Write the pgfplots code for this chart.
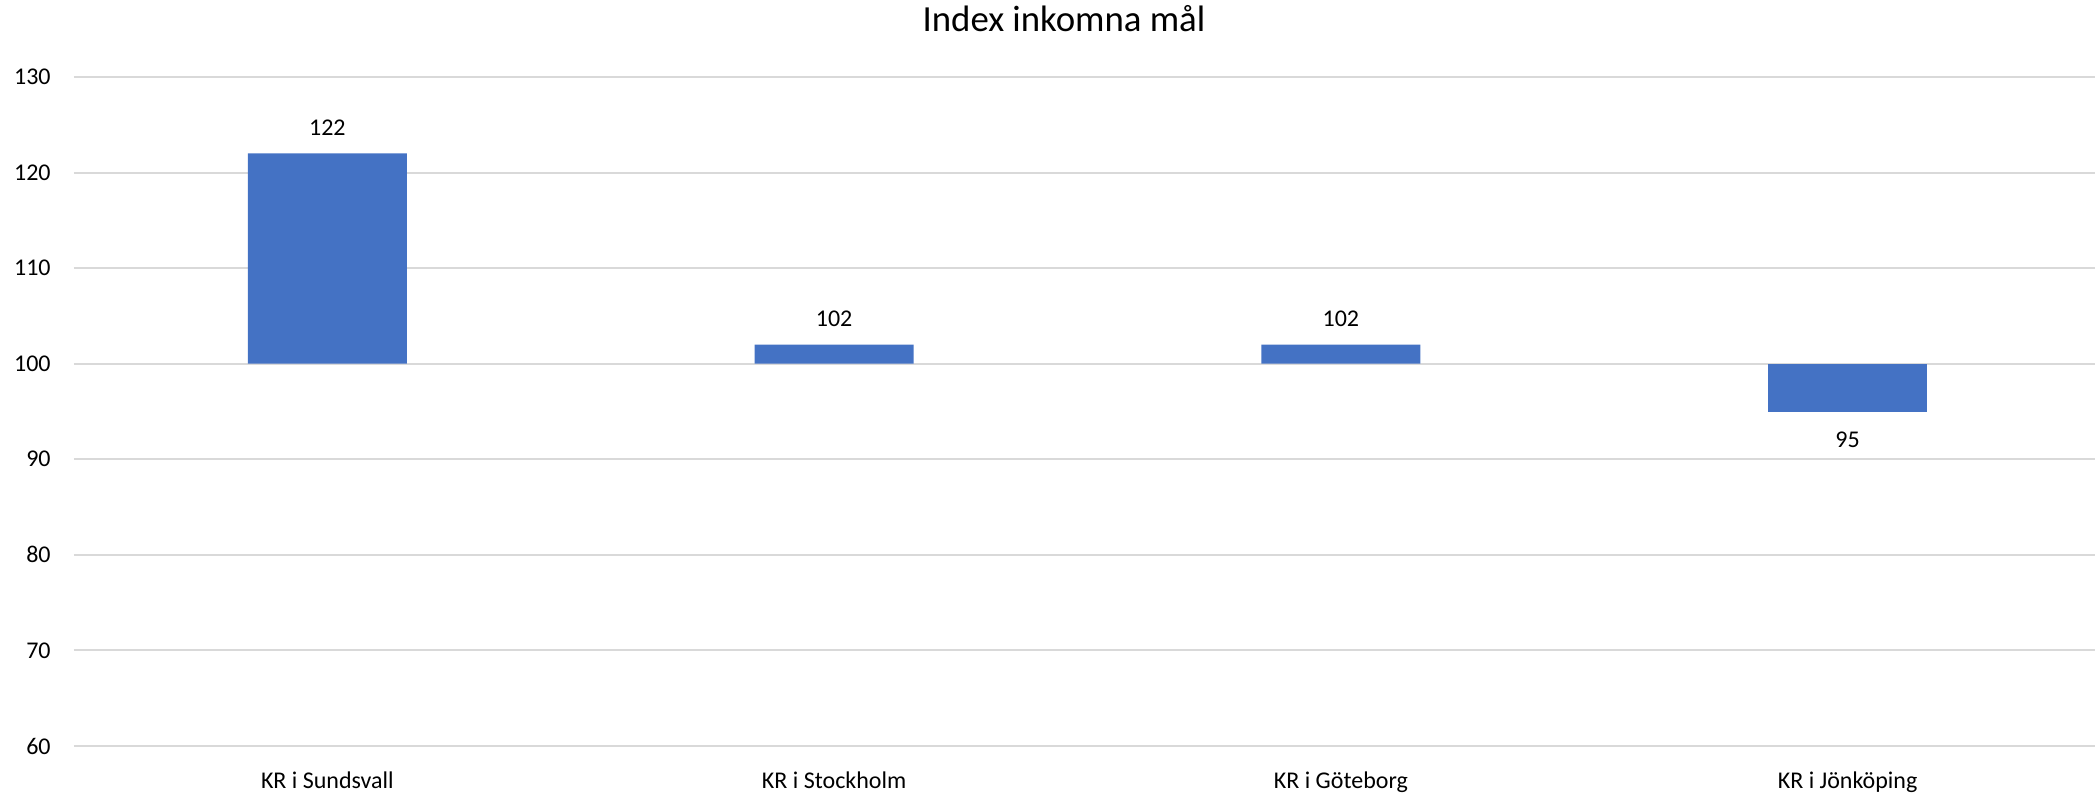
\documentclass[border=0pt]{standalone}
\usepackage{fontspec}
\setmainfont{Carlito}
\usepackage{pgfplots}
\usepackage{pgfplotstable}
\pgfplotsset{compat=1.18}
\definecolor{barblue}{HTML}{4472C4}
\definecolor{gridgray}{HTML}{D9D9D9}

% index per domstol, bars start at 100
\pgfplotstableread{
x v
0 122
1 102
2 102
}\indexover

\pgfplotstableread{
x v
3 95
}\indexunder

\begin{document}
\begin{tikzpicture}
\begin{axis}[
    scale only axis,
    width=1013.5bp, height=334.5bp,
    ybar, bar width=79.5bp, bar shift=0pt,
    xmin=-0.5, xmax=3.5,
    ymin=-40, ymax=30,
    y filter/.expression={y-100},
    axis line style={draw=none},
    major tick length=0pt,
    tick style={draw=none},
    xtick={0,1,2,3},
    xticklabels={KR i Sundsvall, KR i Stockholm, KR i Göteborg, KR i Jönköping},
    ytick={-40,-30,-20,-10,0,10,20,30},
    yticklabels={60,70,80,90,100,110,120,130},
    ymajorgrids=true,
    grid style={gridgray, line width=1bp},
    tick label style={font=\fontsize{12bp}{14bp}\selectfont, text=black},
    yticklabel style={anchor=east, inner sep=0pt, xshift=-11.5bp},
    xticklabel style={anchor=base, inner sep=0pt, yshift=-21bp},
    title={Index inkomna mål},
    title style={at={(0.4884,1)}, anchor=base, inner sep=0pt, yshift=17bp,
        font=\fontsize{18.4bp}{22bp}\selectfont},
    nodes near coords={\pgfmathprintnumber[assume math mode=true]{\pgfplotspointmeta}},
    point meta=explicit,
    nodes near coords style={font=\fontsize{12bp}{14bp}\selectfont, inner sep=9bp, text=black},
    clip=false,
]
\addplot[fill=barblue, draw=none] table[x=x, y=v, meta=v] {\indexover};
\addplot[fill=barblue, draw=none, nodes near coords style={anchor=north, inner sep=10bp}]
    table[x=x, y=v, meta=v] {\indexunder};
\end{axis}
\pgfresetboundingbox
\path (-37bp,-26bp) rectangle (1010.5bp,373bp);
\end{tikzpicture}
\end{document}
